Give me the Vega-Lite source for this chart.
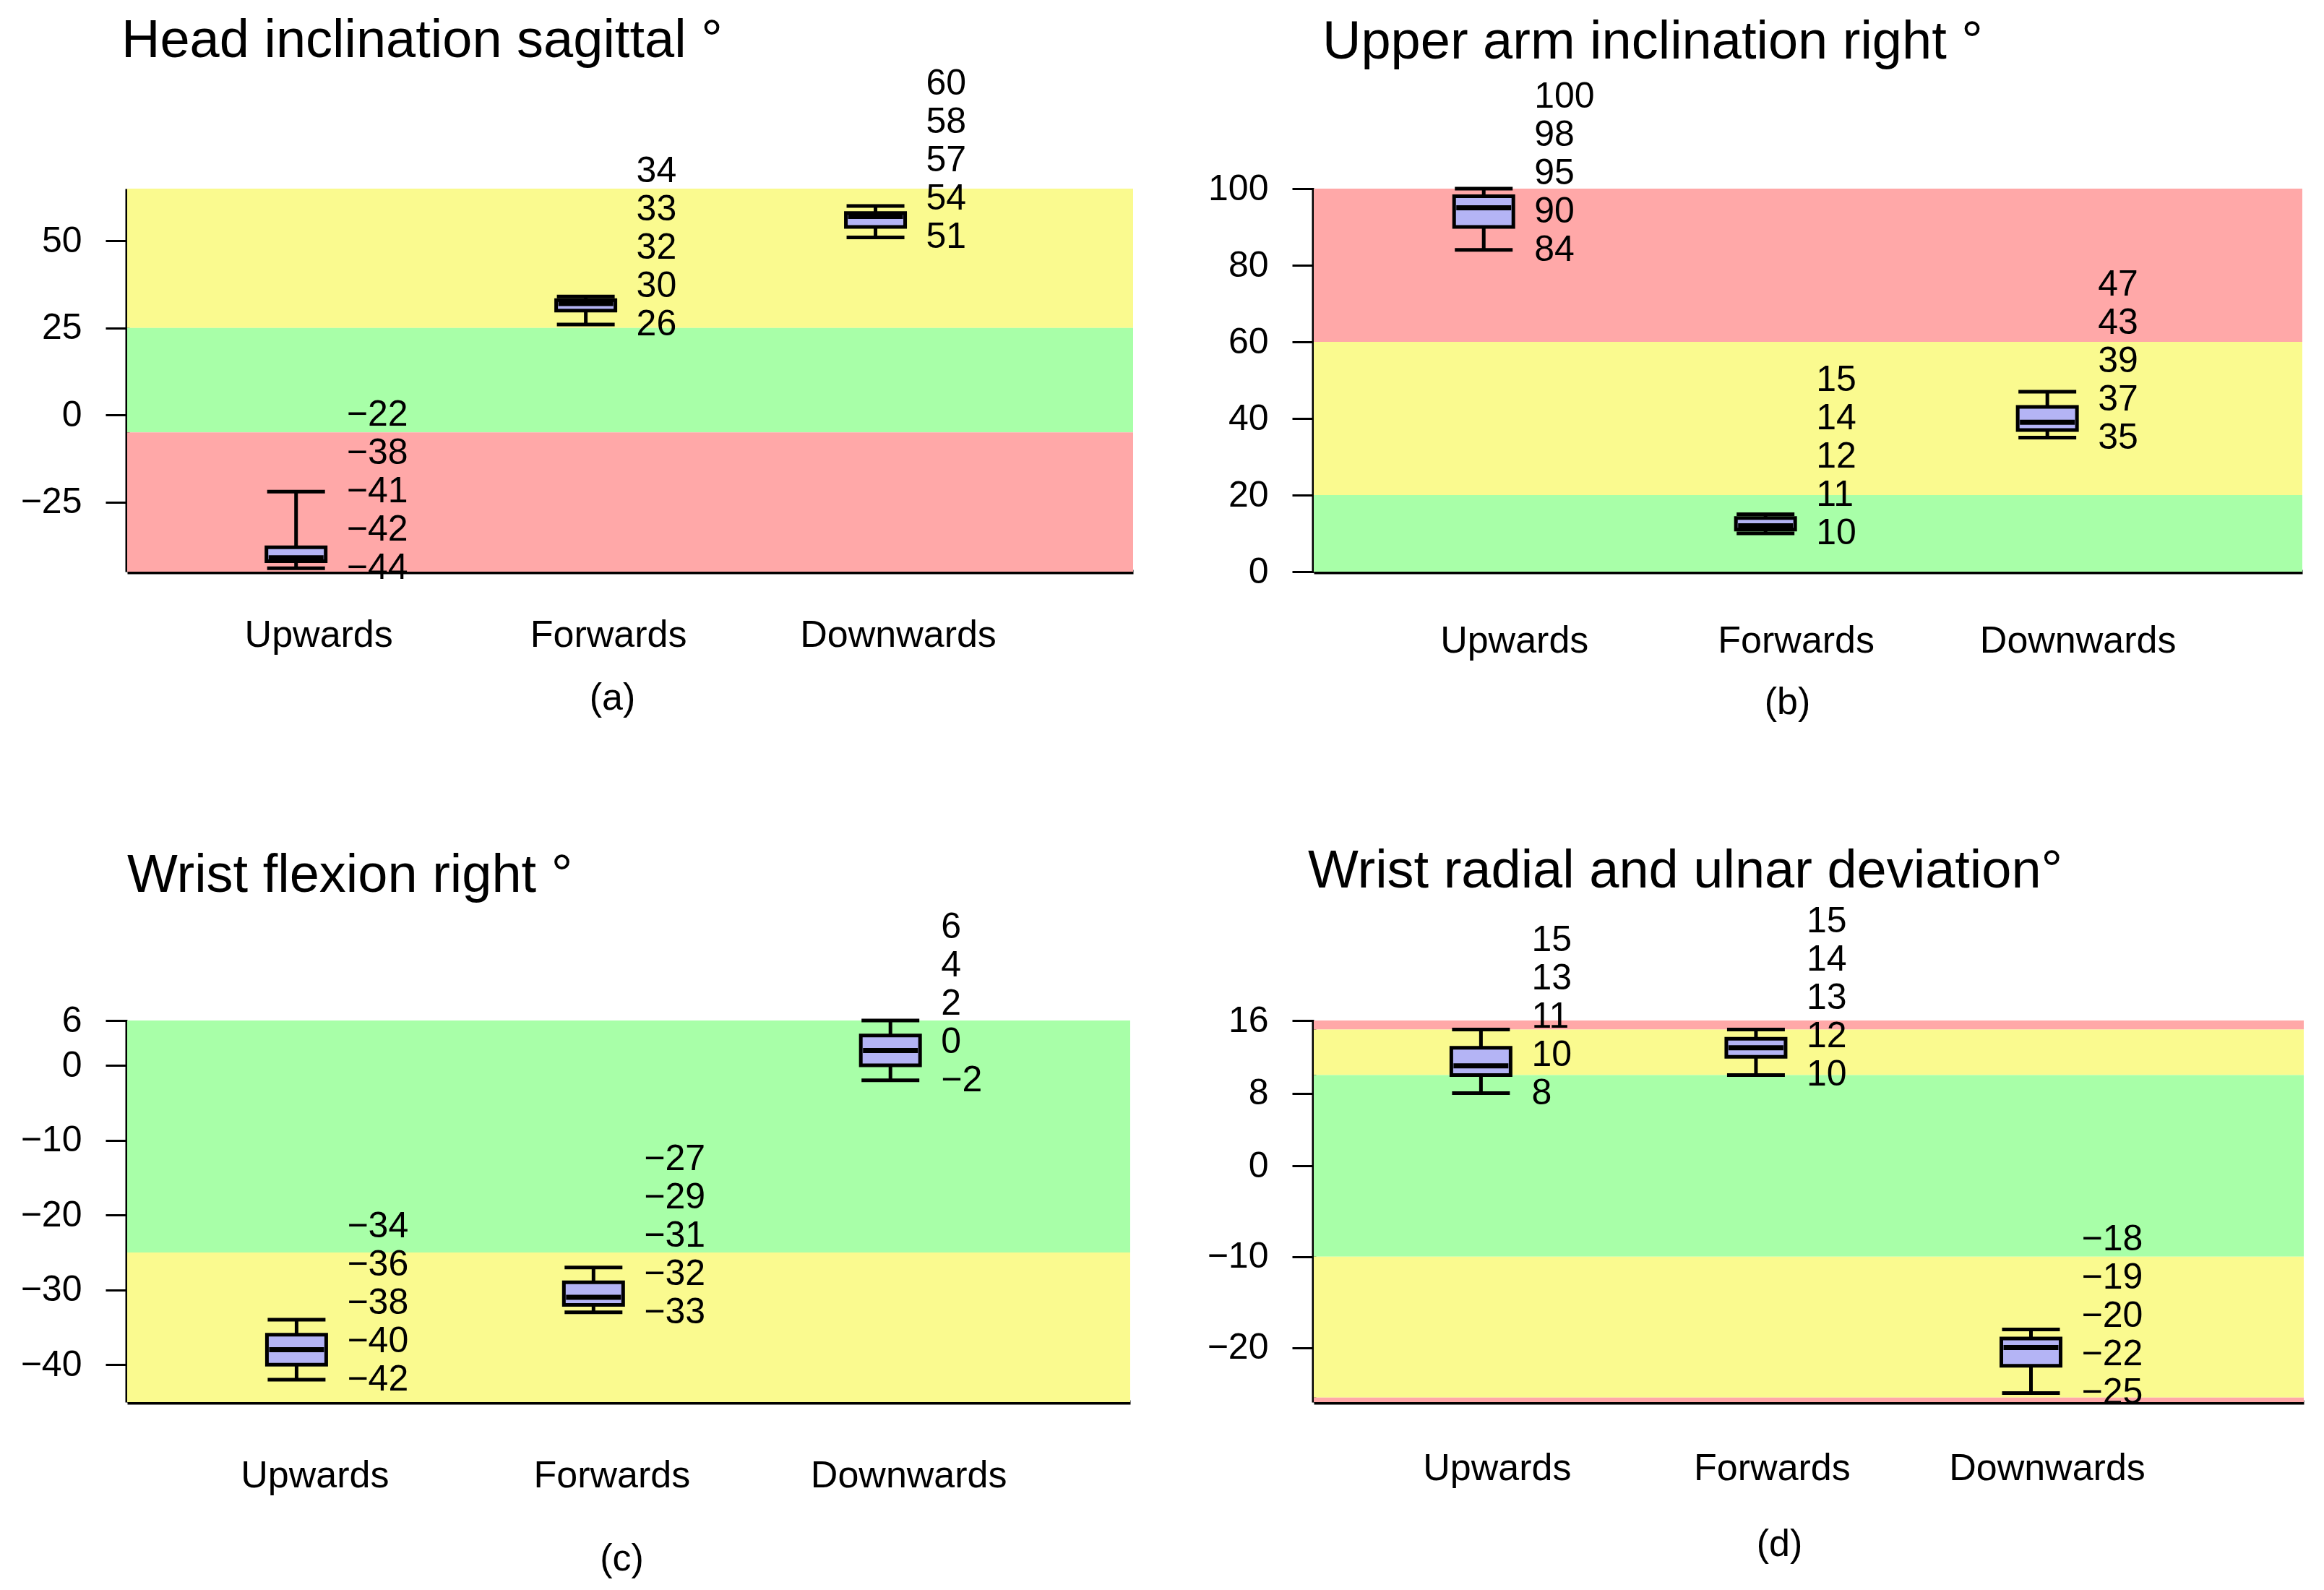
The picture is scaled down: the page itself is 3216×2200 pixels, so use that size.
{
  "$schema": "https://vega.github.io/schema/vega-lite/v6.json",
  "background": "white",
  "padding": {"left": 28, "top": 20, "right": 20, "bottom": 4},
  "columns": 2,
  "spacing": {"column": 102, "row": 172},
  "datasets": {
    "boxes": [
      {"panel": "a", "pos": "Upwards", "min": -44, "q1": -42, "median": -41, "q3": -38, "max": -22},
      {"panel": "a", "pos": "Forwards", "min": 26, "q1": 30, "median": 32, "q3": 33, "max": 34},
      {"panel": "a", "pos": "Downwards", "min": 51, "q1": 54, "median": 57, "q3": 58, "max": 60},
      {"panel": "b", "pos": "Upwards", "min": 84, "q1": 90, "median": 95, "q3": 98, "max": 100},
      {"panel": "b", "pos": "Forwards", "min": 10, "q1": 11, "median": 12, "q3": 14, "max": 15},
      {"panel": "b", "pos": "Downwards", "min": 35, "q1": 37, "median": 39, "q3": 43, "max": 47},
      {"panel": "c", "pos": "Upwards", "min": -42, "q1": -40, "median": -38, "q3": -36, "max": -34},
      {"panel": "c", "pos": "Forwards", "min": -33, "q1": -32, "median": -31, "q3": -29, "max": -27},
      {"panel": "c", "pos": "Downwards", "min": -2, "q1": 0, "median": 2, "q3": 4, "max": 6},
      {"panel": "d", "pos": "Upwards", "min": 8, "q1": 10, "median": 11, "q3": 13, "max": 15},
      {"panel": "d", "pos": "Forwards", "min": 10, "q1": 12, "median": 13, "q3": 14, "max": 15},
      {"panel": "d", "pos": "Downwards", "min": -25, "q1": -22, "median": -20, "q3": -19, "max": -18}
    ],
    "bands": [
      {"panel": "a", "zone": "yellow", "lo": 25, "hi": 65},
      {"panel": "a", "zone": "green", "lo": -5, "hi": 25},
      {"panel": "a", "zone": "red", "lo": -45, "hi": -5},
      {"panel": "b", "zone": "red", "lo": 60, "hi": 100},
      {"panel": "b", "zone": "yellow", "lo": 20, "hi": 60},
      {"panel": "b", "zone": "green", "lo": 0, "hi": 20},
      {"panel": "c", "zone": "green", "lo": -25, "hi": 6},
      {"panel": "c", "zone": "yellow", "lo": -45, "hi": -25},
      {"panel": "d", "zone": "red", "lo": 15, "hi": 16},
      {"panel": "d", "zone": "yellow", "lo": 10, "hi": 15},
      {"panel": "d", "zone": "green", "lo": -10, "hi": 10},
      {"panel": "d", "zone": "yellow", "lo": -25.5, "hi": -10},
      {"panel": "d", "zone": "red", "lo": -26, "hi": -25.5}
    ]
  },
  "concat": [
    {
      "width": 1392, "height": 530,
      "title": {"text": "Head inclination sagittal °", "dx": -8, "offset": -4},
      "layer": [
        {
          "data": {"name": "bands"},
          "transform": [{"filter": "datum.panel === 'a'"}],
          "mark": {"type": "rect"},
          "encoding": {
            "x": {"value": 0}, "x2": {"value": "width"},
            "y": {"field": "lo", "type": "quantitative", "scale": {"domain": [-45, 65], "nice": false, "zero": false}, "axis": {"values": [-25, 0, 25, 50], "title": null}},
            "y2": {"field": "hi"},
            "color": {"field": "zone", "type": "nominal", "scale": {"domain": ["red", "yellow", "green"], "range": ["#ffa8a8", "#fafa8f", "#a8ffa8"]}, "legend": null}
          }
        },
        {
          "data": {"name": "boxes"},
          "transform": [{"filter": "datum.panel === 'a'"}],
          "encoding": {"x": {"field": "pos", "type": "nominal", "sort": ["Upwards", "Forwards", "Downwards"], "scale": {"type": "point", "padding": 0.736, "align": 0.396}, "axis": {"title": "(a)", "labelOffset": 31, "labelPadding": 62, "titlePadding": 36, "titleX": 671}}},
          "layer": [
            {"mark": {"type": "rule", "strokeWidth": 5, "color": "black"}, "encoding": {"y": {"field": "min", "type": "quantitative"}, "y2": {"field": "max"}}},
            {"mark": {"type": "tick"}, "encoding": {"y": {"field": "min", "type": "quantitative"}}},
            {"mark": {"type": "tick"}, "encoding": {"y": {"field": "max", "type": "quantitative"}}},
            {"mark": {"type": "bar", "width": 82, "fill": "#b4b4f5", "stroke": "black", "strokeWidth": 5}, "encoding": {"y": {"field": "q1", "type": "quantitative"}, "y2": {"field": "q3"}}},
            {"mark": {"type": "tick", "thickness": 7, "size": 76}, "encoding": {"y": {"field": "median", "type": "quantitative"}}},
            {"mark": {"type": "text", "dy": 0}, "encoding": {"y": {"field": "min", "type": "quantitative"}, "text": {"field": "min", "type": "quantitative", "format": "d"}}},
            {"mark": {"type": "text", "dy": -53}, "encoding": {"y": {"field": "min", "type": "quantitative"}, "text": {"field": "q1", "type": "quantitative", "format": "d"}}},
            {"mark": {"type": "text", "dy": -106}, "encoding": {"y": {"field": "min", "type": "quantitative"}, "text": {"field": "median", "type": "quantitative", "format": "d"}}},
            {"mark": {"type": "text", "dy": -159}, "encoding": {"y": {"field": "min", "type": "quantitative"}, "text": {"field": "q3", "type": "quantitative", "format": "d"}}},
            {"mark": {"type": "text", "dy": -212}, "encoding": {"y": {"field": "min", "type": "quantitative"}, "text": {"field": "max", "type": "quantitative", "format": "d"}}}
          ]
        }
      ]
    },
    {
      "width": 1368, "height": 530,
      "title": {"text": "Upper arm inclination right °", "dx": 12, "offset": 12},
      "layer": [
        {
          "data": {"name": "bands"},
          "transform": [{"filter": "datum.panel === 'b'"}],
          "mark": {"type": "rect"},
          "encoding": {
            "x": {"value": 0}, "x2": {"value": "width"},
            "y": {"field": "lo", "type": "quantitative", "scale": {"domain": [0, 100], "nice": false, "zero": false}, "axis": {"values": [0, 20, 40, 60, 80, 100], "title": null}},
            "y2": {"field": "hi"},
            "color": {"field": "zone", "type": "nominal", "scale": {"domain": ["red", "yellow", "green"], "range": ["#ffa8a8", "#fafa8f", "#a8ffa8"]}, "legend": null}
          }
        },
        {
          "data": {"name": "boxes"},
          "transform": [{"filter": "datum.panel === 'b'"}],
          "encoding": {"x": {"field": "pos", "type": "nominal", "sort": ["Upwards", "Forwards", "Downwards"], "scale": {"type": "point", "padding": 0.754, "align": 0.4}, "axis": {"title": "(b)", "labelOffset": 42, "labelPadding": 70, "titlePadding": 34, "titleX": 655}}},
          "layer": [
            {"mark": {"type": "rule", "strokeWidth": 5, "color": "black"}, "encoding": {"y": {"field": "min", "type": "quantitative"}, "y2": {"field": "max"}}},
            {"mark": {"type": "tick"}, "encoding": {"y": {"field": "min", "type": "quantitative"}}},
            {"mark": {"type": "tick"}, "encoding": {"y": {"field": "max", "type": "quantitative"}}},
            {"mark": {"type": "bar", "width": 82, "fill": "#b4b4f5", "stroke": "black", "strokeWidth": 5}, "encoding": {"y": {"field": "q1", "type": "quantitative"}, "y2": {"field": "q3"}}},
            {"mark": {"type": "tick", "thickness": 7, "size": 76}, "encoding": {"y": {"field": "median", "type": "quantitative"}}},
            {"mark": {"type": "text", "dy": 0}, "encoding": {"y": {"field": "min", "type": "quantitative"}, "text": {"field": "min", "type": "quantitative", "format": "d"}}},
            {"mark": {"type": "text", "dy": -53}, "encoding": {"y": {"field": "min", "type": "quantitative"}, "text": {"field": "q1", "type": "quantitative", "format": "d"}}},
            {"mark": {"type": "text", "dy": -106}, "encoding": {"y": {"field": "min", "type": "quantitative"}, "text": {"field": "median", "type": "quantitative", "format": "d"}}},
            {"mark": {"type": "text", "dy": -159}, "encoding": {"y": {"field": "min", "type": "quantitative"}, "text": {"field": "q3", "type": "quantitative", "format": "d"}}},
            {"mark": {"type": "text", "dy": -212}, "encoding": {"y": {"field": "min", "type": "quantitative"}, "text": {"field": "max", "type": "quantitative", "format": "d"}}}
          ]
        }
      ]
    },
    {
      "width": 1388, "height": 528,
      "title": {"text": "Wrist flexion right °", "dx": 0, "offset": 8},
      "layer": [
        {
          "data": {"name": "bands"},
          "transform": [{"filter": "datum.panel === 'c'"}],
          "mark": {"type": "rect"},
          "encoding": {
            "x": {"value": 0}, "x2": {"value": "width"},
            "y": {"field": "lo", "type": "quantitative", "scale": {"domain": [-45, 6], "nice": false, "zero": false}, "axis": {"values": [-40, -30, -20, -10, 0, 6], "title": null}},
            "y2": {"field": "hi"},
            "color": {"field": "zone", "type": "nominal", "scale": {"domain": ["red", "yellow", "green"], "range": ["#ffa8a8", "#fafa8f", "#a8ffa8"]}, "legend": null}
          }
        },
        {
          "data": {"name": "boxes"},
          "transform": [{"filter": "datum.panel === 'c'"}],
          "encoding": {"x": {"field": "pos", "type": "nominal", "sort": ["Upwards", "Forwards", "Downwards"], "scale": {"type": "point", "padding": 0.689, "align": 0.414}, "axis": {"title": "(c)", "labelOffset": 25, "labelPadding": 76, "titlePadding": 64, "titleX": 684}}},
          "layer": [
            {"mark": {"type": "rule", "strokeWidth": 5, "color": "black"}, "encoding": {"y": {"field": "min", "type": "quantitative"}, "y2": {"field": "max"}}},
            {"mark": {"type": "tick"}, "encoding": {"y": {"field": "min", "type": "quantitative"}}},
            {"mark": {"type": "tick"}, "encoding": {"y": {"field": "max", "type": "quantitative"}}},
            {"mark": {"type": "bar", "width": 82, "fill": "#b4b4f5", "stroke": "black", "strokeWidth": 5}, "encoding": {"y": {"field": "q1", "type": "quantitative"}, "y2": {"field": "q3"}}},
            {"mark": {"type": "tick", "thickness": 7, "size": 76}, "encoding": {"y": {"field": "median", "type": "quantitative"}}},
            {"mark": {"type": "text", "dy": 0}, "encoding": {"y": {"field": "min", "type": "quantitative"}, "text": {"field": "min", "type": "quantitative", "format": "d"}}},
            {"mark": {"type": "text", "dy": -53}, "encoding": {"y": {"field": "min", "type": "quantitative"}, "text": {"field": "q1", "type": "quantitative", "format": "d"}}},
            {"mark": {"type": "text", "dy": -106}, "encoding": {"y": {"field": "min", "type": "quantitative"}, "text": {"field": "median", "type": "quantitative", "format": "d"}}},
            {"mark": {"type": "text", "dy": -159}, "encoding": {"y": {"field": "min", "type": "quantitative"}, "text": {"field": "q3", "type": "quantitative", "format": "d"}}},
            {"mark": {"type": "text", "dy": -212}, "encoding": {"y": {"field": "min", "type": "quantitative"}, "text": {"field": "max", "type": "quantitative", "format": "d"}}}
          ]
        }
      ]
    },
    {
      "width": 1370, "height": 528,
      "title": {"text": "Wrist radial and ulnar deviation°", "dx": -8, "offset": 6},
      "layer": [
        {
          "data": {"name": "bands"},
          "transform": [{"filter": "datum.panel === 'd'"}],
          "mark": {"type": "rect"},
          "encoding": {
            "x": {"value": 0}, "x2": {"value": "width"},
            "y": {"field": "lo", "type": "quantitative", "scale": {"domain": [-26, 16], "nice": false, "zero": false}, "axis": {"values": [-20, -10, 0, 8, 16], "title": null}},
            "y2": {"field": "hi"},
            "color": {"field": "zone", "type": "nominal", "scale": {"domain": ["red", "yellow", "green"], "range": ["#ffa8a8", "#fafa8f", "#a8ffa8"]}, "legend": null}
          }
        },
        {
          "data": {"name": "boxes"},
          "transform": [{"filter": "datum.panel === 'd'"}],
          "encoding": {"x": {"field": "pos", "type": "nominal", "sort": ["Upwards", "Forwards", "Downwards"], "scale": {"type": "point", "padding": 0.8, "align": 0.38}, "axis": {"title": "(d)", "labelOffset": 22, "labelPadding": 66, "titlePadding": 54, "titleX": 644}}},
          "layer": [
            {"mark": {"type": "rule", "strokeWidth": 5, "color": "black"}, "encoding": {"y": {"field": "min", "type": "quantitative"}, "y2": {"field": "max"}}},
            {"mark": {"type": "tick"}, "encoding": {"y": {"field": "min", "type": "quantitative"}}},
            {"mark": {"type": "tick"}, "encoding": {"y": {"field": "max", "type": "quantitative"}}},
            {"mark": {"type": "bar", "width": 82, "fill": "#b4b4f5", "stroke": "black", "strokeWidth": 5}, "encoding": {"y": {"field": "q1", "type": "quantitative"}, "y2": {"field": "q3"}}},
            {"mark": {"type": "tick", "thickness": 7, "size": 76}, "encoding": {"y": {"field": "median", "type": "quantitative"}}},
            {"mark": {"type": "text", "dy": 0}, "encoding": {"y": {"field": "min", "type": "quantitative"}, "text": {"field": "min", "type": "quantitative", "format": "d"}}},
            {"mark": {"type": "text", "dy": -53}, "encoding": {"y": {"field": "min", "type": "quantitative"}, "text": {"field": "q1", "type": "quantitative", "format": "d"}}},
            {"mark": {"type": "text", "dy": -106}, "encoding": {"y": {"field": "min", "type": "quantitative"}, "text": {"field": "median", "type": "quantitative", "format": "d"}}},
            {"mark": {"type": "text", "dy": -159}, "encoding": {"y": {"field": "min", "type": "quantitative"}, "text": {"field": "q3", "type": "quantitative", "format": "d"}}},
            {"mark": {"type": "text", "dy": -212}, "encoding": {"y": {"field": "min", "type": "quantitative"}, "text": {"field": "max", "type": "quantitative", "format": "d"}}}
          ]
        }
      ]
    }
  ],
  "config": {
    "font": "Liberation Sans",
    "view": {"stroke": null},
    "title": {"font": "Liberation Sans", "fontSize": 74, "fontWeight": "normal", "anchor": "start", "frame": "group", "color": "black"},
    "axis": {"domainColor": "black", "domainWidth": 6, "tickColor": "black", "tickWidth": 3, "tickSize": 30, "labelFont": "Liberation Sans", "labelColor": "black", "grid": false, "titleFont": "Liberation Sans", "titleFontWeight": "normal", "titleColor": "black", "titleFontSize": 52, "labelLimit": 1000},
    "axisY": {"labelFontSize": 50, "labelPadding": 33},
    "axisX": {"ticks": false, "labelFontSize": 52, "labelAngle": 0},
    "tick": {"color": "black", "thickness": 5, "size": 80, "opacity": 1},
    "text": {"font": "Liberation Sans", "fontSize": 50, "align": "left", "baseline": "middle", "dx": 70, "color": "black"}
  }
}
